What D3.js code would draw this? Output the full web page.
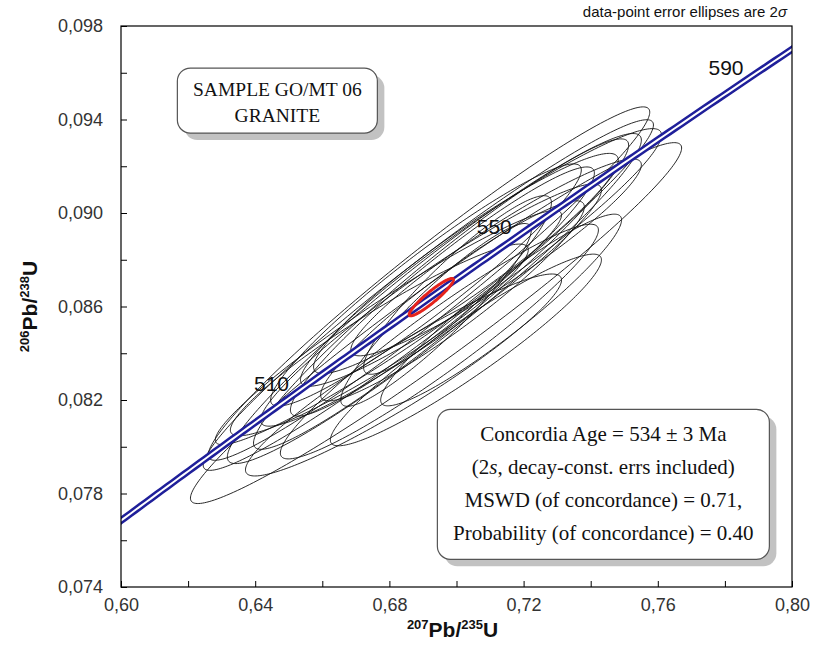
<!DOCTYPE html>
<html>
<head>
<meta charset="utf-8">
<script src="https://cdn.jsdelivr.net/npm/d3@7"></script>
<style>
  body { margin: 0; background: #fff; }
  .tick-label { font-family: "Liberation Sans", Arial, sans-serif; font-size: 18px; fill: #333; }
  .axis-title { font-family: "Liberation Sans", Arial, sans-serif; font-weight: bold; fill: #111; }
  .box-text { font-family: "Liberation Serif", "Times New Roman", serif; fill: #111; }
</style>
</head>
<body>
<svg class="js-chart" width="814" height="670"></svg>
<script>
// 207Pb/235U ratio, 2s error, 206Pb/238U ratio, 2s error, error correlation
const r207_235 = [0.6939, 0.6918, 0.6916, 0.6934, 0.6954, 0.6949, 0.6958, 0.7028, 0.6988, 0.7003,
                  0.6939, 0.6770, 0.6924, 0.7073, 0.6842, 0.7028, 0.7133, 0.6909, 0.7118, 0.6797];
const e207_235 = [0.0732, 0.0658, 0.0671, 0.0617, 0.0559, 0.0474, 0.0453, 0.0454, 0.0393, 0.0280,
                  0.0284, 0.0444, 0.0508, 0.0538, 0.0471, 0.0404, 0.0359, 0.0463, 0.0433, 0.0516];
const r206_238 = [0.08529, 0.08698, 0.08649, 0.08634, 0.08653, 0.08450, 0.08664, 0.08784, 0.08624, 0.08692,
                  0.08564, 0.08457, 0.08606, 0.08810, 0.08307, 0.08414, 0.08585, 0.08692, 0.08810, 0.08510];
const e206_238 = [0.00772, 0.00756, 0.00750, 0.00706, 0.00664, 0.00502, 0.00533, 0.00471, 0.00428, 0.00382,
                  0.00391, 0.00410, 0.00518, 0.00551, 0.00432, 0.00410, 0.00410, 0.00518, 0.00421, 0.00501];
const rho = [0.97, 0.97, 0.97, 0.96, 0.96, 0.95, 0.95, 0.94, 0.94, 0.92,
             0.93, 0.94, 0.95, 0.95, 0.94, 0.94, 0.94, 0.95, 0.94, 0.96];

// concordia age ellipse (534 Ma)
const concordiaPoint = { x: 0.6925, sx: 0.0066, y: 0.0864, sy: 0.00080, rho: 0.93 };

const ageLabels = [510, 550, 590];
const xTickLabels = [0.60, 0.64, 0.68, 0.72, 0.76, 0.80];
const yTickLabels = [0.074, 0.078, 0.082, 0.086, 0.090, 0.094, 0.098];

const l238 = 1.55125e-10;
const l235 = 9.8485e-10;

const drawChart = () => {
    const margin = {top: 26, left: 121};
    const width = 671;
    const height = 561;

    const svg = d3.select('.js-chart');
    const g = svg.append('g')
        .attr('transform', `translate(${margin.left},${margin.top})`);

    const x = d3.scaleLinear().domain([0.60, 0.80]).range([0, width]);
    const y = d3.scaleLinear().domain([0.074, 0.098]).range([height, 0]);

    const locale = d3.formatLocale({decimal: ',', thousands: '.', grouping: [3], currency: ['', '']});
    const fx = locale.format('.2f');
    const fy = locale.format('.3f');

    g.append('clipPath').attr('id', 'plot-clip')
        .append('rect').attr('width', width).attr('height', height);

    // ticks pointing into the plot
    g.append('g')
        .attr('transform', `translate(0,${height})`)
        .call(d3.axisBottom(x).tickValues(d3.range(0.60, 0.8001, 0.02)).tickSize(-6).tickFormat(''))
        .call(a => a.select('.domain').remove())
        .selectAll('line').attr('stroke', '#000');
    g.append('g')
        .call(d3.axisLeft(y).tickValues(d3.range(0.074, 0.0981, 0.002)).tickSize(-6).tickFormat(''))
        .call(a => a.select('.domain').remove())
        .selectAll('line').attr('stroke', '#000');

    // tick labels
    g.append('g')
        .attr('transform', `translate(0,${height})`)
        .call(d3.axisBottom(x).tickValues(xTickLabels).tickSize(0).tickPadding(11).tickFormat(fx))
        .call(a => a.select('.domain').remove())
        .selectAll('text').attr('class', 'tick-label').attr('fill', null);
    g.append('g')
        .call(d3.axisLeft(y).tickValues(yTickLabels).tickSize(0).tickPadding(18).tickFormat(fy))
        .call(a => a.select('.domain').remove())
        .selectAll('text').attr('class', 'tick-label').attr('fill', null);

    // ellipses
    const line = d3.line().curve(d3.curveLinearClosed);
    const ellipse = (cx, sx, cy, sy, r) => {
        const k = Math.sqrt(1 - r * r);
        return line(d3.range(0, 2 * Math.PI, Math.PI / 120).map(t => [
            x(cx + sx * Math.cos(t)),
            y(cy + sy * (r * Math.cos(t) + k * Math.sin(t)))
        ]));
    };

    const plot = g.append('g').attr('clip-path', 'url(#plot-clip)');

    plot.selectAll('.ellipse')
        .data(d3.range(r207_235.length))
        .enter().append('path')
        .attr('class', 'ellipse')
        .attr('d', i => ellipse(r207_235[i], e207_235[i], r206_238[i], e206_238[i], rho[i]))
        .attr('fill', 'none')
        .attr('stroke', '#111')
        .attr('stroke-width', 0.9);

    // concordia curve, drawn as a double blue line
    const ages = d3.range(460, 611, 1);
    const conc = d3.line()
        .x(t => x(Math.exp(l235 * t * 1e6) - 1))
        .y(t => y(Math.exp(l238 * t * 1e6) - 1));
    plot.append('path').attr('d', conc(ages))
        .attr('fill', 'none').attr('stroke', '#1f1f9a').attr('stroke-width', 7);
    plot.append('path').attr('d', conc(ages))
        .attr('fill', 'none').attr('stroke', '#fff').attr('stroke-width', 2);

    // concordia age ellipse
    plot.append('path')
        .attr('d', ellipse(concordiaPoint.x, concordiaPoint.sx, concordiaPoint.y, concordiaPoint.sy, concordiaPoint.rho))
        .attr('fill', 'none')
        .attr('stroke', '#e5231b')
        .attr('stroke-width', 3);

    // age labels
    g.selectAll('.age')
        .data(ageLabels)
        .enter().append('text')
        .attr('x', t => x(Math.exp(l235 * t * 1e6) - 1) - 8)
        .attr('y', t => y(Math.exp(l238 * t * 1e6) - 1) - 1)
        .attr('text-anchor', 'end')
        .style('font-family', '"Liberation Sans", Arial, sans-serif')
        .style('font-size', '21px')
        .attr('fill', '#111')
        .text(t => t);

    // frame
    g.append('rect')
        .attr('width', width).attr('height', height)
        .attr('fill', 'none').attr('stroke', '#000').attr('stroke-width', 1.2);

    // text boxes with drop shadow
    const textBox = (bx, by, bw, bh, lines, size, gap) => {
        g.append('rect')
            .attr('x', bx + 7).attr('y', by + 7).attr('width', bw).attr('height', bh)
            .attr('rx', 13).attr('fill', '#c2c2c2');
        g.append('rect')
            .attr('x', bx).attr('y', by).attr('width', bw).attr('height', bh)
            .attr('rx', 13).attr('fill', '#fff').attr('stroke', '#555').attr('stroke-width', 1.2);
        const t = g.append('text')
            .attr('class', 'box-text')
            .attr('text-anchor', 'middle')
            .style('font-size', size + 'px');
        lines.forEach((ln, i) => {
            const ts = t.append('tspan')
                .attr('x', bx + bw / 2)
                .attr('y', by + gap * 0.5 + size * 0.35 + 8 + i * gap);
            ln.forEach(part => {
                ts.append('tspan').style('font-style', part.i ? 'italic' : null).text(part.s);
            });
        });
    };

    textBox(x(0.6168), y(0.0962), 200, 65,
        [[{s: 'SAMPLE GO/MT 06'}], [{s: 'GRANITE'}]], 19.5, 26);
    textBox(x(0.6943), y(0.0816), 332, 150,
        [[{s: 'Concordia Age = 534 \u00b1 3 Ma'}],
         [{s: '(2'}, {s: 's', i: true}, {s: ', decay-const. errs included)'}],
         [{s: 'MSWD (of concordance) = 0.71,'}],
         [{s: 'Probability (of concordance) = 0.40'}]], 21, 33);

    // axis titles
    const xt = svg.append('text').attr('class', 'axis-title')
        .attr('x', margin.left + width / 2 - 4).attr('y', 637)
        .attr('text-anchor', 'middle').style('font-size', '21px');
    xt.append('tspan').style('font-size', '13px').attr('dy', '-8').text('207');
    xt.append('tspan').attr('dy', '8').text('Pb/');
    xt.append('tspan').style('font-size', '13px').attr('dy', '-8').text('235');
    xt.append('tspan').attr('dy', '8').text('U');

    const yt = svg.append('text').attr('class', 'axis-title')
        .attr('transform', `translate(37,${margin.top + height / 2}) rotate(-90)`)
        .attr('text-anchor', 'middle').style('font-size', '21px');
    yt.append('tspan').style('font-size', '13px').attr('dy', '-8').text('206');
    yt.append('tspan').attr('dy', '8').text('Pb/');
    yt.append('tspan').style('font-size', '13px').attr('dy', '-8').text('238');
    yt.append('tspan').attr('dy', '8').text('U');

    // note
    const note = svg.append('text')
        .attr('x', 787).attr('y', 17)
        .attr('text-anchor', 'end')
        .style('font-family', '"Liberation Sans", Arial, sans-serif')
        .style('font-size', '15px')
        .attr('fill', '#111');
    note.append('tspan').text('data-point error ellipses are 2');
    note.append('tspan').style('font-style', 'italic').text('\u03c3');
};

drawChart();
</script>
</body>
</html>
